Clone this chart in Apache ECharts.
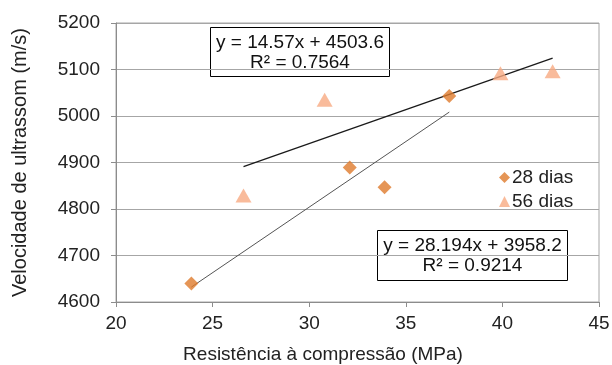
<!DOCTYPE html>
<html><head><meta charset="utf-8">
<script src="https://cdn.jsdelivr.net/npm/echarts@6/dist/echarts.min.js"></script>
<style>html,body{margin:0;padding:0;background:#fff}#c{width:612px;height:365px}</style>
</head><body><div id="c"></div>
<script>
const seriesNames = ['28 dias', '56 dias'];
const x28 = [23.9, 32.1, 33.9, 37.25];
const y28 = [4640, 4889, 4847, 5043];
const x56 = [26.6, 30.8, 39.9, 42.6];
const y56 = [4829, 5035, 5092, 5096];
const slope = [28.194, 14.57];
const intercept = [3958.2, 4503.6];
const eqText = ['y = 28.194x + 3958.2\nR² = 0.9214', 'y = 14.57x + 4503.6\nR² = 0.7564'];
const xTicks = [20, 45, 5];
const yTicks = [4600, 5200, 100];
const xTitle = 'Resistência à compressão (MPa)';
const yTitle = 'Velocidade de ultrassom (m/s)';

const FONT = 'Liberation Sans, Arial, sans-serif';
const pts = (xs, ys) => xs.map((x, i) => [x, ys[i]]);
const trend = (xs, k) => {
  const a = Math.min(...xs), b = Math.max(...xs);
  return [[a, slope[k] * a + intercept[k]], [b, slope[k] * b + intercept[k]]];
};
const chart = echarts.init(document.getElementById('c'), null, {renderer: 'canvas'});
chart.setOption({
  animation: false,
  backgroundColor: '#fff',
  textStyle: {fontFamily: FONT},
  grid: {left: 116, right: 13, top: 23, bottom: 63, show: true, borderColor: '#a6a6a6', borderWidth: 1,
         containLabel: false, outerBoundsMode: 'none'},
  xAxis: {
    type: 'value', min: xTicks[0], max: xTicks[1], interval: xTicks[2],
    name: xTitle, nameLocation: 'middle', nameGap: 43,
    nameTextStyle: {fontSize: 19, color: '#222', fontFamily: FONT, verticalAlign: 'top', padding: [0, 69, 0, 0]},
    axisLine: {show: true, lineStyle: {color: '#8c8c8c'}},
    axisTick: {show: true, length: 5, lineStyle: {color: '#8c8c8c'}},
    axisLabel: {fontSize: 19, color: '#222', margin: 12, fontFamily: FONT},
    splitLine: {show: false}
  },
  yAxis: {
    type: 'value', min: yTicks[0], max: yTicks[1], interval: yTicks[2],
    name: yTitle, nameLocation: 'middle', nameGap: 86,
    nameTextStyle: {fontSize: 20, color: '#222', fontFamily: FONT},
    axisLine: {show: true, lineStyle: {color: '#8c8c8c'}},
    axisTick: {show: true, length: 5, lineStyle: {color: '#8c8c8c'}},
    axisLabel: {fontSize: 19, color: '#222', margin: 16, fontFamily: FONT, formatter: v => String(v)},
    splitLine: {show: true, lineStyle: {color: '#a6a6a6', width: 1}}
  },
  legend: {
    data: [{name: seriesNames[0], icon: 'diamond'}, {name: seriesNames[1], icon: 'triangle'}],
    orient: 'vertical', left: 494, top: 163, itemWidth: 11, itemHeight: 11, itemGap: 5,
    textStyle: {fontSize: 19, color: '#222', fontFamily: FONT, padding: [0, 0, 0, -3]}
  },
  series: [
    {name: 'trend28', type: 'line', data: trend(x28, 0), symbol: 'none', silent: true,
     lineStyle: {color: '#555', width: 1}, z: 1},
    {name: 'trend56', type: 'line', data: trend(x56, 1), symbol: 'none', silent: true,
     lineStyle: {color: '#1a1a1a', width: 1.3}, z: 1},
    {name: seriesNames[0], type: 'scatter', data: pts(x28, y28), symbol: 'diamond', symbolSize: 14,
     itemStyle: {color: '#df7b2c'}, z: 3},
    {name: seriesNames[1], type: 'scatter', data: pts(x56, y56), symbol: 'triangle', symbolSize: [16, 14],
     itemStyle: {color: '#f7aa82'}, z: 3}
  ],
  graphic: [
    {type: 'group', left: 210, top: 27, children: [
      {type: 'rect', shape: {x: 0, y: 0, width: 179, height: 49}, style: {fill: '#fff', stroke: '#000', lineWidth: 1}},
      {type: 'text', x: 89.5, y: 25, style: {text: eqText[1], font: '19px ' + FONT, fill: '#111', align: 'center', verticalAlign: 'middle', lineHeight: 20}}
    ]},
    {type: 'group', left: 377, top: 230, children: [
      {type: 'rect', shape: {x: 0, y: 0, width: 190, height: 50}, style: {fill: '#fff', stroke: '#000', lineWidth: 1}},
      {type: 'text', x: 95, y: 25.5, style: {text: eqText[0], font: '19px ' + FONT, fill: '#111', align: 'center', verticalAlign: 'middle', lineHeight: 20}}
    ]}
  ]
});
</script></body></html>
